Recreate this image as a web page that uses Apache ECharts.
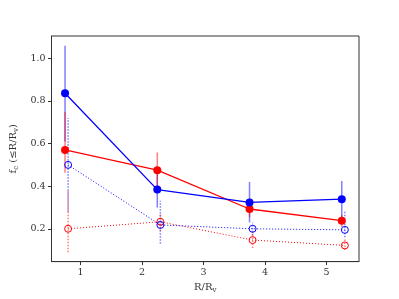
<!DOCTYPE html>
<html><head><meta charset="utf-8">
<script src="https://cdn.jsdelivr.net/npm/echarts@6/dist/echarts.min.js"></script>
<style>html,body{margin:0;padding:0;background:#fff}#c{width:399px;height:299px}</style>
</head><body><div id="c"></div>
<script>
// x positions
const xFilled = [0.75, 2.25, 3.75, 5.25];
const xOpen = [0.8, 2.3, 3.8, 5.3];
// filled blue (solid)
const blueFilled = [0.836, 0.384, 0.324, 0.339];
const blueFilledLo = [0.61, 0.30, 0.23, 0.25];
const blueFilledHi = [1.059, 0.47, 0.42, 0.424];
// filled red (solid)
const redFilled = [0.57, 0.475, 0.293, 0.238];
const redFilledLo = [0.463, 0.39, 0.255, 0.21];
const redFilledHi = [0.748, 0.558, 0.34, 0.265];
// open blue (dotted)
const blueOpen = [0.50, 0.218, 0.20, 0.195];
const blueOpenLo = [0.28, 0.13, 0.17, 0.16];
const blueOpenHi = [0.72, 0.332, 0.23, 0.28];
// open red (dotted)
const redOpen = [0.20, 0.233, 0.147, 0.122];
const redOpenLo = [0.09, 0.19, 0.11, 0.10];
const redOpenHi = [0.38, 0.27, 0.19, 0.15];
const xTicks = [1, 2, 3, 4, 5];
const yTicks = [0.2, 0.4, 0.6, 0.8, 1.0];

const font = 'DejaVu Serif';
const pts = (xs, ys) => xs.map((x, i) => [x, ys[i]]);
const errData = (xs, lo, hi) => xs.map((x, i) => [x, lo[i], hi[i]]);
function errSeries(xs, lo, hi, color, dotted) {
  return {
    type: 'custom', silent: true, z: 1,
    data: errData(xs, lo, hi),
    encode: {x: 0, y: [1, 2]},
    renderItem: function (params, api) {
      const a = api.coord([api.value(0), api.value(1)]);
      const b = api.coord([api.value(0), api.value(2)]);
      return {type: 'line', shape: {x1: a[0], y1: a[1], x2: b[0], y2: b[1]},
        style: {stroke: color, lineWidth: 1.5, opacity: 0.5, lineDash: dotted ? [1.5, 1.5] : null}};
    }
  };
}
const chart = echarts.init(document.getElementById('c'), null, {renderer: 'canvas'});
chart.setOption({
  animation: false,
  grid: {left: 50, top: 36, right: 40, bottom: 33, show: true, borderColor: '#333', borderWidth: 1},
  xAxis: {
    type: 'value', min: 0.53, max: 5.53,
    name: '{a|R/R}{s|v}', nameLocation: 'middle', nameGap: 17,
    nameTextStyle: {rich: {a: {fontFamily: font, fontSize: 10, color: '#333'}, s: {fontFamily: font, fontSize: 7, color: '#333', verticalAlign: 'bottom', padding: [6, 0, 0, 0]}}},
    splitLine: {show: false},
    axisLine: {show: true, onZero: false, lineStyle: {color: '#333'}},
    axisTick: {show: true, length: 3.5, customValues: xTicks, lineStyle: {color: '#333'}},
    axisLabel: {customValues: xTicks, fontFamily: font, fontSize: 9.5, color: '#333', margin: 6}
  },
  yAxis: {
    type: 'value', min: 0.046, max: 1.105,
    name: '{a|f}{s|c}{a| (≤R/R}{s|v}{a|)}', nameLocation: 'middle', nameGap: 28,
    nameTextStyle: {rich: {a: {fontFamily: font, fontSize: 10, color: '#333'}, s: {fontFamily: font, fontSize: 7, color: '#333', padding: [6, 0, 0, 0]}}},
    splitLine: {show: false},
    axisLine: {show: true, onZero: false, lineStyle: {color: '#333'}},
    axisTick: {show: true, length: 3.5, customValues: yTicks, lineStyle: {color: '#333'}},
    axisLabel: {customValues: yTicks, fontFamily: font, fontSize: 9.5, color: '#333', margin: 6, formatter: v => v.toFixed(1)}
  },
  series: [
    errSeries(xFilled, blueFilledLo, blueFilledHi, '#0000ff', false),
    errSeries(xFilled, redFilledLo, redFilledHi, '#ff0000', false),
    errSeries(xOpen, blueOpenLo, blueOpenHi, '#0000ff', true),
    errSeries(xOpen, redOpenLo, redOpenHi, '#ff0000', true),
    {type: 'line', data: pts(xOpen, redOpen), symbol: 'circle', symbolSize: 7, z: 2,
     lineStyle: {color: '#ff0000', width: 1, type: [1, 2]},
     itemStyle: {color: 'rgba(0,0,0,0)', borderColor: '#ff0000', borderWidth: 1}},
    {type: 'line', data: pts(xOpen, blueOpen), symbol: 'circle', symbolSize: 7, z: 2,
     lineStyle: {color: '#0000ff', width: 1, type: [1, 2]},
     itemStyle: {color: 'rgba(0,0,0,0)', borderColor: '#0000ff', borderWidth: 1}},
    {type: 'line', data: pts(xFilled, redFilled), symbol: 'circle', symbolSize: 8, z: 3,
     lineStyle: {color: '#ff0000', width: 1.3},
     itemStyle: {color: '#ff0000', borderWidth: 0}},
    {type: 'line', data: pts(xFilled, blueFilled), symbol: 'circle', symbolSize: 8, z: 3,
     lineStyle: {color: '#0000ff', width: 1.3},
     itemStyle: {color: '#0000ff', borderWidth: 0}}
  ]
});
</script></body></html>
